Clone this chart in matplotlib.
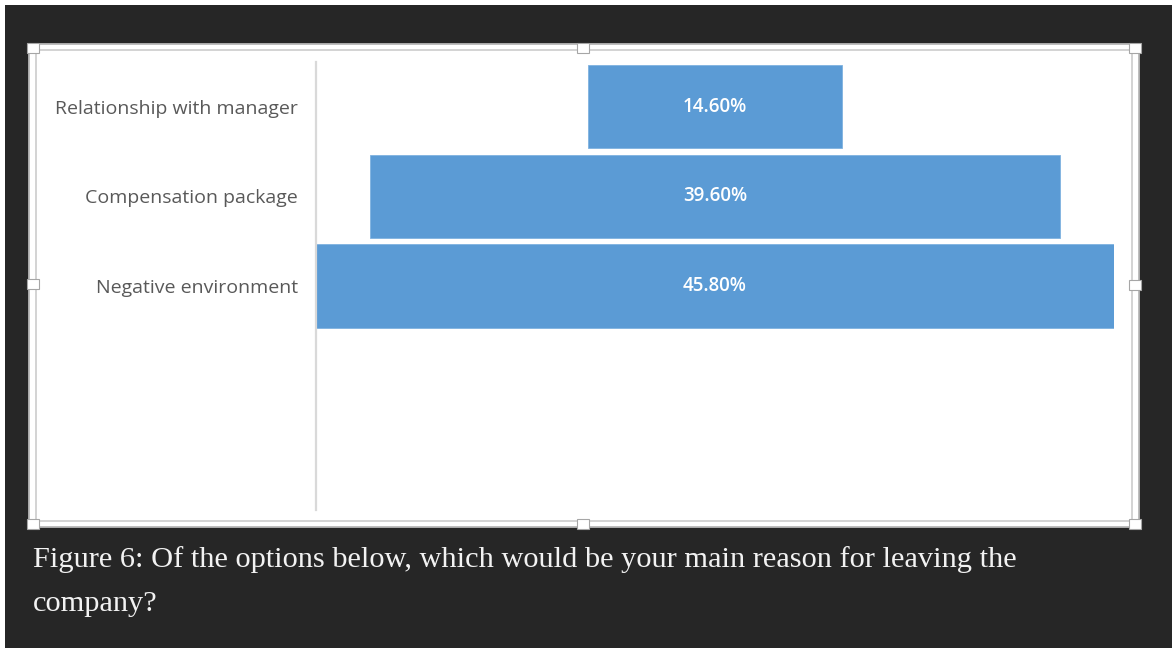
import matplotlib
matplotlib.use("Agg")
import matplotlib.pyplot as plt
from matplotlib.patches import Rectangle

# Survey results: main reason for leaving the company
categories = ["Relationship with manager", "Compensation package", "Negative environment"]
shares = [14.6, 39.6, 45.8]
value_labels = ["14.60%", "39.60%", "45.80%"]
n_slots = 5  # category slots on the vertical axis

caption_lines = [
    "Figure 6: Of the options below, which would be your main reason for leaving the",
    "company?",
]

W, H = 1172, 648
DPI = 100
fig = plt.figure(figsize=(W / DPI, H / DPI), dpi=DPI, facecolor="#262626")


def fx(x):
    return x / W


def fy(y):
    return 1 - y / H


def rect(x0, y0, x1, y1, **kw):
    fig.patches.append(Rectangle((fx(x0), fy(y1)), fx(x1) - fx(x0), fy(y0) - fy(y1),
                                 transform=fig.transFigure, figure=fig, **kw))


# page margin strips
rect(0, 0, 5, H, facecolor="white", edgecolor="none", zorder=0)
rect(0, 0, W, 5, facecolor="white", edgecolor="none", zorder=0)

# chart frame (selection border + chart area)
rect(29, 44, 1139, 527, facecolor="white", edgecolor="#b8b8b8", linewidth=1.3, zorder=0)
rect(36, 50, 1132, 521, facecolor="white", edgecolor="#c8c8c8", linewidth=1.1, zorder=0)

# funnel plot area
ax = fig.add_axes([fx(316), fy(510), fx(1114) - fx(316), fy(62) - fy(510)])
ax.set_zorder(2)
ax.set_facecolor("white")
ypos = list(range(len(categories)))
lefts = [-v / 2 for v in shares]
ax.barh(ypos, shares, left=lefts, height=0.93, color="#5B9BD5",
        edgecolor="#7fb2e0", linewidth=0.6)
for y, lab in zip(ypos, value_labels):
    ax.text(0, y, lab, ha="center", va="center", color="white",
            fontsize=13.5, fontfamily="Open Sans", fontweight="semibold")

half = max(shares) / 2
ax.set_xlim(-half, half)
ax.set_ylim(n_slots - 0.5, -0.5)
ax.set_yticks(ypos)
ax.set_yticklabels(categories, fontfamily="Open Sans", fontsize=14, color="#595959")
ax.tick_params(axis="y", length=0, pad=13)
ax.set_xticks([])
for s in ("top", "right", "bottom"):
    ax.spines[s].set_visible(False)
ax.spines["left"].set_color("#d9d9d9")
ax.spines["left"].set_linewidth(1.6)

# resize handles
handles = [(33, 48), (583, 48), (1135, 48), (33, 284), (1135, 285),
           (33, 524), (583, 524), (1135, 524)]
for cx, cy in handles:
    rect(cx - 6, cy - 5, cx + 6, cy + 5, facecolor="white", edgecolor="#a6a6a6",
         linewidth=0.8, zorder=5)

# caption
for line, base in zip(caption_lines, (567, 611)):
    fig.text(fx(33), fy(base), line, fontfamily="Liberation Serif",
             fontsize=21.9, color="#f2f2f2", va="baseline", ha="left")

fig.savefig("out.png", dpi=DPI, facecolor=fig.get_facecolor())
